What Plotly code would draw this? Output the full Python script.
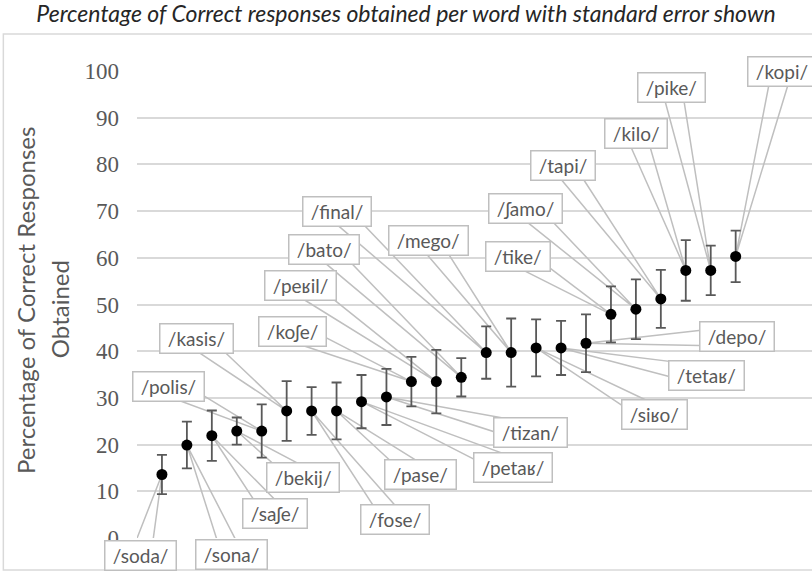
import math
import plotly.graph_objects as go

# ---- data ----
words = ["/soda/", "/sona/", "/saʃe/", "/bekij/", "/polis/", "/kasis/",
         "/fose/", "/pase/", "/petaʁ/", "/tizan/", "/koʃe/", "/peʁil/",
         "/bato/", "/final/", "/mego/", "/siʁo/", "/tetaʁ/", "/depo/",
         "/tike/", "/ʃamo/", "/tapi/", "/kilo/", "/pike/", "/kopi/"]
percent_correct = [13.6, 19.9, 21.9, 22.9, 22.9, 27.2,
                   27.2, 27.2, 29.2, 30.2, 33.5, 33.5,
                   34.4, 39.7, 39.7, 40.7, 40.7, 41.7,
                   47.9, 49.0, 51.2, 57.3, 57.3, 60.3]
std_error = [4.2, 5.0, 5.4, 2.9, 5.7, 6.4,
             5.1, 6.1, 5.7, 6.0, 5.3, 6.8,
             4.1, 5.6, 7.3, 6.1, 5.8, 6.2,
             6.0, 6.4, 6.2, 6.5, 5.3, 5.5]
word_index = list(range(1, len(words) + 1))
y_ticks = [0, 10, 20, 30, 40, 50, 60, 70, 80, 90, 100]

# ---- label callout offsets (pixels from the point to the box centre) ----
label_dx = [-21, 45, 63, 66, -93, -90, 83, 84, 151, 144, -119, -136,
            -137, -149, -83, 118, 145, 151, -93, -110, -98, -50, -39, 46]
label_dy = [81, 109, 78, 46, -45, -72, 109, 64, 66, 36, -50, -96,
            -128, -141, -112, 67, 28, -7, -58, -101, -133, -137, -183, -185]

GRID = "#d9d9d9"
BOX = "#bfbfbf"
TXT = "#595959"

fig = go.Figure()
fig.add_trace(go.Scatter(
    x=word_index, y=percent_correct, mode="markers",
    marker=dict(color="black", size=11),
    error_y=dict(type="data", array=std_error, color=TXT, thickness=1.8, width=5),
    showlegend=False, hoverinfo="skip", cliponaxis=False,
))

shapes = []
annotations = []
hw = 10
for xi, yi, w, dx, dy in zip(word_index, percent_correct, words, label_dx, label_dy):
    L = math.hypot(dx, dy)
    px, py = -dy / L, dx / L
    b1x, b1y = dx + hw * px, dy + hw * py
    b2x, b2y = dx - hw * px, dy - hw * py
    path = f"M {b1x:.1f},{-b1y:.1f} L 0,0 L {b2x:.1f},{-b2y:.1f}"
    shapes.append(dict(type="path", xref="x", yref="y", xsizemode="pixel",
                       ysizemode="pixel", xanchor=xi, yanchor=yi, path=path,
                       line=dict(color=BOX, width=1.5), layer="between"))
    annotations.append(dict(
        x=xi, y=yi, xref="x", yref="y", text="\u00a0" + w + "\u00a0",
        showarrow=True, arrowcolor="rgba(0,0,0,0)", ax=dx, ay=dy,
        axref="pixel", ayref="pixel", bgcolor="white", bordercolor=BOX,
        borderwidth=1.5, borderpad=2.5,
        font=dict(family="Lato", size=19, color=TXT)))

# y-axis title (two lines)
annotations.append(dict(text="Percentage of Correct Responses", xref="paper", yref="paper",
                        x=-0.1644, y=0.5075, textangle=-90, showarrow=False,
                        xanchor="center", yanchor="middle",
                        font=dict(family="Lato", size=24, color=TXT)))
annotations.append(dict(text="Obtained", xref="paper", yref="paper",
                        x=-0.1156, y=0.49, textangle=-90, showarrow=False,
                        xanchor="center", yanchor="middle",
                        font=dict(family="Lato", size=24, color=TXT)))

# outer chart border
shapes.append(dict(type="rect", xref="paper", yref="paper", x0=-0.198, x1=1.02,
                   y0=-0.0685, y1=1.079, line=dict(color=GRID, width=1.5), layer="below"))

fig.update_layout(
    width=812, height=572,
    margin=dict(l=137, r=0, t=71, b=34),
    paper_bgcolor="white", plot_bgcolor="white",
    title=dict(text="<i>Percentage of Correct responses obtained per word with standard error shown</i>",
               x=0.5, xref="container", y=1 - 14 / 572, yref="container",
               xanchor="center", yanchor="middle",
               font=dict(family="Lato", size=23, color="#262626")),
    xaxis=dict(range=[0, 27.06], showgrid=False, zeroline=False, showline=False,
               showticklabels=False, ticks=""),
    yaxis=dict(range=[0, 100], tickvals=y_ticks, showgrid=True, gridcolor=GRID,
               gridwidth=1.5, zeroline=False, showline=False, ticks="",
               ticklabelstandoff=17,
               tickfont=dict(family="Liberation Serif", size=23, color=TXT)),
    shapes=shapes, annotations=annotations,
)

fig.write_html("out.html", config={"displayModeBar": False},
               post_script="document.body.style.margin='0';document.body.style.padding='0';")
